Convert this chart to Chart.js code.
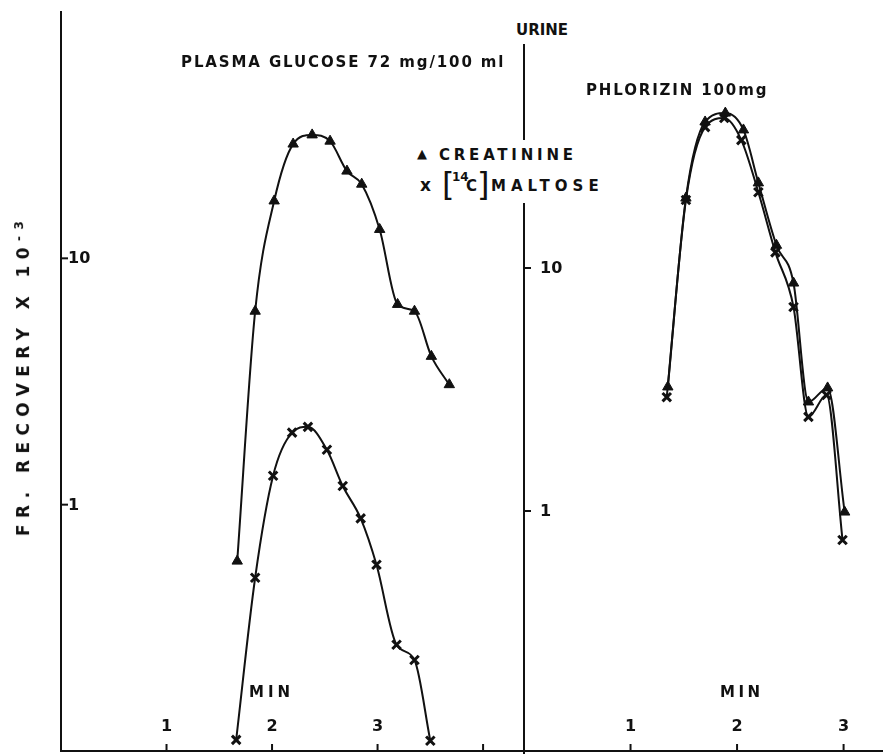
<!DOCTYPE html>
<html>
<head>
<meta charset="utf-8">
<script src="https://cdn.jsdelivr.net/npm/chart.js@4"></script>
<style>
  html,body{margin:0;padding:0;background:#fff;}
  #wrap{position:relative;width:883px;height:754px;overflow:hidden;background:#fff;}
  canvas{position:absolute;top:0;}
  .t{position:absolute;font-family:"DejaVu Sans",sans-serif;font-weight:bold;color:#111;white-space:nowrap;line-height:1;transform:translateY(-50%);}
  .wb{position:absolute;background:#fff;}
</style>
</head>
<body>
<div id="wrap">
  <canvas id="cL" width="883" height="754" style="left:0"></canvas>
  <canvas id="cR" width="383" height="754" style="left:500px"></canvas>
</div>
<script>
// ---------------- DATA ----------------
// Left panel: plasma glucose 72 mg/100 ml
const leftCreatMin  = [1.67, 1.84, 2.02, 2.20, 2.38, 2.55, 2.71, 2.85, 3.02, 3.19, 3.35, 3.51, 3.68];
const leftCreatVal  = [0.59, 6.1, 17.1, 29.1, 31.7, 29.9, 22.6, 20.0, 13.1, 6.5, 6.1, 4.0, 3.07];
const leftMaltMin   = [1.66, 1.84, 2.01, 2.19, 2.34, 2.52, 2.67, 2.84, 2.99, 3.18, 3.35, 3.50];
const leftMaltVal   = [0.111, 0.505, 1.31, 1.96, 2.07, 1.67, 1.19, 0.88, 0.57, 0.27, 0.234, 0.11];
// Right panel: phlorizin 100 mg
const rightCreatMin = [1.35, 1.52, 1.70, 1.89, 2.06, 2.20, 2.37, 2.53, 2.67, 2.85, 3.01];
const rightCreatVal = [3.24, 19.4, 39.9, 43.4, 37.0, 22.4, 12.4, 8.67, 2.81, 3.21, 0.99];
const rightMaltMin  = [1.34, 1.52, 1.70, 1.88, 2.04, 2.20, 2.36, 2.53, 2.67, 2.84, 2.99];
const rightMaltVal  = [2.94, 19.05, 38.0, 41.4, 33.6, 20.5, 11.6, 6.91, 2.44, 3.0, 0.76];
// Ticks
const leftXTicks  = [1, 2, 3, 4];
const leftXLabels = ['1', '2', '3', ''];
const rightXTicks = [1, 2, 3];
const rightXLabels= ['1', '2', '3'];
const yTicks      = [1, 10];
const yLabels     = ['1', '10'];
const seriesNames = ['CREATININE', '[14C] MALTOSE'];

// ---------------- CHARTS ----------------
const INK = '#111';
const pts = (xs, ys) => xs.map((x, i) => ({x, y: ys[i]}));

function creatDS(xs, ys){
  return {label: seriesNames[0], data: pts(xs, ys), borderColor: INK, borderWidth: 2,
    pointStyle: 'triangle', pointRadius: 6, pointBackgroundColor: INK, pointBorderColor: INK,
    pointBorderWidth: 1, cubicInterpolationMode: 'monotone', fill: false};
}
function maltDS(xs, ys){
  return {label: seriesNames[1], data: pts(xs, ys), borderColor: INK, borderWidth: 2,
    pointStyle: 'crossRot', pointRadius: 6, pointBorderColor: INK,
    pointBorderWidth: 3, cubicInterpolationMode: 'monotone', fill: false};
}

const tickPlugin = {
  id: 'inTicks',
  afterDraw(chart, args, o){
    const {ctx, chartArea, scales:{x, y}} = chart;
    ctx.save();
    ctx.strokeStyle = INK; ctx.fillStyle = INK; ctx.lineWidth = 2;
    ctx.font = 'bold 16px "DejaVu Sans", sans-serif';
    const by = o.axisY;
    o.xTicks.forEach((v, i) => {
      const px = x.getPixelForValue(v);
      ctx.beginPath(); ctx.moveTo(px, by); ctx.lineTo(px, by - 7); ctx.stroke();
      if (o.xLabels[i]) { ctx.textAlign = 'center'; ctx.textBaseline = 'middle'; ctx.fillText(o.xLabels[i], px, by - 24); }
    });
    o.yTicks.forEach((v, i) => {
      const py = y.getPixelForValue(v);
      ctx.beginPath(); ctx.moveTo(chartArea.left, py); ctx.lineTo(chartArea.left + 7, py); ctx.stroke();
      ctx.textAlign = 'left'; ctx.textBaseline = 'middle';
      ctx.fillText(o.yLabels[i], chartArea.left + o.labelGap, py + 1);
    });
    ctx.restore();
  }
};

function axes(xMax, showXBorder){
  return {
    x: {type: 'linear', min: 0, max: xMax, ticks: {display: false},
        grid: {display: false, drawTicks: false},
        border: {display: showXBorder, color: INK, width: 2},
        afterFit(s){ s.height = 0; }},
    y: {type: 'logarithmic', min: 0.1, max: 100, ticks: {display: false},
        grid: {display: false, drawTicks: false},
        border: {display: true, color: INK, width: 2},
        afterFit(s){ s.width = 0; }}
  };
}

new Chart(document.getElementById('cL'), {
  type: 'line',
  data: {datasets: [creatDS(leftCreatMin, leftCreatVal), maltDS(leftMaltMin, leftMaltVal)]},
  options: {
    responsive: false, devicePixelRatio: 1, animation: false,
    layout: {autoPadding: false, padding: {left: 61, top: 12, right: 0, bottom: 3}},
    scales: axes(7.79, true),
    plugins: {legend: {display: false}, tooltip: {enabled: false},
      inTicks: {axisY: 751, xTicks: leftXTicks, xLabels: leftXLabels, yTicks, yLabels, labelGap: 7}}
  },
  plugins: [tickPlugin]
});

new Chart(document.getElementById('cR'), {
  type: 'line',
  data: {datasets: [creatDS(rightCreatMin, rightCreatVal), maltDS(rightMaltMin, rightMaltVal)]},
  options: {
    responsive: false, devicePixelRatio: 1, animation: false,
    layout: {autoPadding: false, padding: {left: 24, top: 25, right: 0, bottom: 0}},
    scales: axes(3.37, false),
    plugins: {legend: {display: false}, tooltip: {enabled: false},
      inTicks: {axisY: 751, xTicks: rightXTicks, xLabels: rightXLabels, yTicks, yLabels, labelGap: 16}}
  },
  plugins: [tickPlugin]
});

// ---------------- TEXT ----------------
const wrap = document.getElementById('wrap');
function box(l, t, w, h){ const d = document.createElement('div'); d.className = 'wb';
  Object.assign(d.style, {left: l + 'px', top: t + 'px', width: w + 'px', height: h + 'px'}); wrap.appendChild(d); }
function txt(html, l, cy, size, width, extra){
  const d = document.createElement('div'); d.className = 't'; d.innerHTML = html;
  d.style.left = l + 'px'; d.style.top = cy + 'px'; d.style.fontSize = size + 'px';
  if (extra) Object.assign(d.style, extra);
  wrap.appendChild(d);
  if (width) {
    const nat = d.offsetWidth; const n = d.textContent.length;
    d.style.letterSpacing = ((width - nat) / Math.max(1, n - 1)) + 'px';
  }
  return d;
}
box(512, 16, 62, 28);
box(415, 140, 190, 63);

txt('URINE', 516, 30, 15, 52);
txt('PLASMA GLUCOSE 72 mg/100 ml', 181, 62, 15, 323);
txt('PHLORIZIN 100mg', 586, 90, 15, 180);
txt('&#9650;', 417, 153, 13);
txt('CREATININE', 439, 155, 15, 134);
txt('x', 420, 185, 17);
txt('[', 442, 184, 32, null, {fontWeight: 'normal'});
txt('14', 452, 177, 12);
txt('C', 466, 186, 15);
txt(']', 477, 184, 32, null, {fontWeight: 'normal'});
txt('MALTOSE', 491, 186, 15, 108);
txt('MIN', 249, 692, 15, 41);
txt('MIN', 720, 692, 15, 40);

// Y axis title (rotated)
const yt = document.createElement('div');
yt.className = 't';
yt.innerHTML = 'FR. RECOVERY X 10<sup style="font-size:12px;vertical-align:6px">-3</sup>';
Object.assign(yt.style, {fontSize: '17px', left: '0px', top: '0px', transform: 'none'});
wrap.appendChild(yt);
const natW = yt.offsetWidth, nCh = yt.textContent.length;
yt.style.letterSpacing = ((315 - natW) / (nCh - 1)) + 'px';
const W = yt.offsetWidth, H = yt.offsetHeight;
yt.style.left = (22 - W / 2) + 'px';
yt.style.top = (375 - H / 2) + 'px';
yt.style.transform = 'rotate(-90deg)';
</script>
</body>
</html>
